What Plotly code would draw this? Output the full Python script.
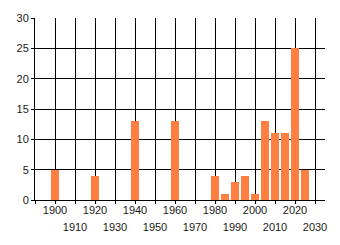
import plotly.graph_objects as go

years = [1900, 1920, 1940, 1960, 1980, 1985, 1990, 1995, 2000, 2005, 2010, 2015, 2020, 2025]
counts = [5, 4, 13, 13, 4, 1, 3, 4, 1, 13, 11, 11, 25, 5]
grid_years = list(range(1890, 2031, 10))
row1_labels = [1900, 1920, 1940, 1960, 1980, 2000, 2020]
row2_labels = [1910, 1930, 1950, 1970, 1990, 2010, 2030]
y_ticks = [0, 5, 10, 15, 20, 25, 30]

font = dict(family="Liberation Sans, Arial, sans-serif", size=11, color="#1a1a1a")

fig = go.Figure()
fig.add_trace(go.Bar(x=years, y=counts, width=4, marker=dict(color="#FF7F40", line=dict(width=0)),
                     showlegend=False, hoverinfo="skip"))
fig.add_trace(go.Scatter(x=years, y=counts, mode="none", xaxis="x2", showlegend=False, hoverinfo="skip"))

fig.update_layout(
    width=340, height=245,
    margin=dict(l=35, r=15, t=15, b=44),
    paper_bgcolor="white", plot_bgcolor="white",
    font=font,
    xaxis=dict(
        range=[1890, 2035],
        tickmode="array",
        tickvals=grid_years,
        ticktext=[str(y) if y in row1_labels else "" for y in grid_years],
        showgrid=True, gridcolor="black", gridwidth=1,
        showline=True, linecolor="black", linewidth=1,
        ticks="outside", ticklen=3, tickcolor="black",
        ticklabelstandoff=-3,
        tickfont=font, zeroline=False,
    ),
    xaxis2=dict(
        range=[1890, 2035],
        overlaying="x", side="bottom", anchor="y",
        tickmode="array",
        tickvals=row2_labels,
        ticktext=[str(y) for y in row2_labels],
        showgrid=False, showline=False,
        ticks="", ticklabelstandoff=19,
        tickfont=font, zeroline=False,
    ),
    yaxis=dict(
        range=[0, 30],
        tickmode="array", tickvals=y_ticks,
        showgrid=True, gridcolor="black", gridwidth=1,
        showline=True, linecolor="black", linewidth=1,
        ticks="outside", ticklen=3, tickcolor="black",
        tickfont=font, zeroline=False,
    ),
    bargap=0,
)

fig.write_html("out.html")
